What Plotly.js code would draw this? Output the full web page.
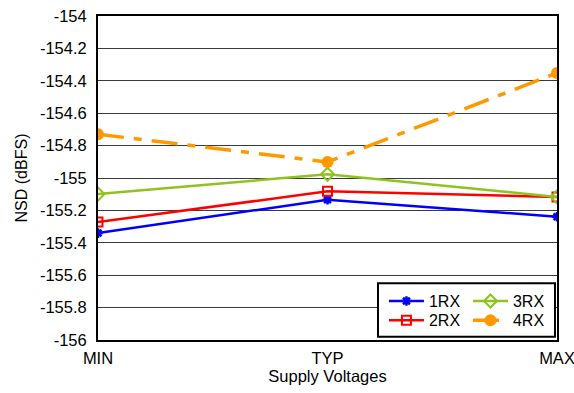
<!DOCTYPE html>
<html>
<head>
<meta charset="utf-8">
<script src="https://cdn.plot.ly/plotly-3.0.1.min.js"></script>
<style>html,body{margin:0;padding:0;background:#fff;}#chart{width:574px;height:393px;}</style>
</head>
<body>
<div id="chart"></div>
<script>
var categories = ["MIN", "TYP", "MAX"];
var rx1 = [-155.34, -155.134, -155.239];
var rx2 = [-155.272, -155.082, -155.117];
var rx3 = [-155.099, -154.977, -155.117];
var rx4 = [-154.730, -154.901, -154.352];
var yTickVals = [-156, -155.8, -155.6, -155.4, -155.2, -155, -154.8, -154.6, -154.4, -154.2, -154];
var yTickText = ["-156", "-155.8", "-155.6", "-155.4", "-155.2", "-155", "-154.8", "-154.6", "-154.4", "-154.2", "-154"];

var font = "Liberation Sans, Arial, sans-serif";
var traces = [
  {x: categories, y: rx1, name: "1RX", mode: "lines+markers", legend: "legend",
   line: {color: "#0000ff", width: 2.5},
   marker: {symbol: "asterisk-open", size: 8, color: "#0000ff", line: {color: "#0000ff", width: 2.5}}},
  {x: categories, y: rx2, name: "2RX", mode: "lines+markers", legend: "legend2",
   line: {color: "#ff0000", width: 2.5},
   marker: {symbol: "square-open", size: 9, color: "#ff0000", line: {color: "#ff0000", width: 2}}},
  {x: categories, y: rx3, name: "3RX", mode: "lines+markers", legend: "legend3",
   line: {color: "#8fc31f", width: 2.5},
   marker: {symbol: "diamond-open", size: 10, color: "#8fc31f", line: {color: "#8fc31f", width: 2}}},
  {x: categories, y: rx4, name: "4RX", mode: "lines+markers", legend: "legend4",
   line: {color: "#ff9900", width: 3.5, dash: "26px,10px,8px,10px"},
   marker: {symbol: "circle", size: 12, color: "#ff9900"}}
];

function leg(x, y) {
  return {x: x, y: y, xanchor: "left", yanchor: "middle", bgcolor: "rgba(0,0,0,0)",
          borderwidth: 0, font: {size: 16, family: font}, tracegroupgap: 0, itemwidth: 35};
}

var layout = {
  width: 574, height: 393,
  margin: {l: 98, r: 17, t: 16, b: 53},
  paper_bgcolor: "#fff", plot_bgcolor: "#fff",
  font: {family: font, size: 16.5, color: "#000"},
  showlegend: true,
  xaxis: {
    type: "category", range: [0, 2], showgrid: false, zeroline: false,
    showline: true, mirror: true, linecolor: "#000", linewidth: 2,
    ticks: "", ticklabelstandoff: 2, tickfont: {size: 16.5, family: font}, automargin: false,
    title: {text: "Supply Voltages", font: {size: 16.5, family: font}, standoff: 1}
  },
  yaxis: {
    range: [-156, -154], tickvals: yTickVals, ticktext: yTickText,
    showgrid: true, gridcolor: "#3a3a3a", gridwidth: 1, zeroline: false,
    showline: true, mirror: true, linecolor: "#000", linewidth: 2,
    ticks: "", ticklabelstandoff: 6, tickfont: {size: 16.5, family: font}, automargin: false,
    title: {text: "NSD (dBFS)", font: {size: 16, family: font}, standoff: 8}
  },
  shapes: [{type: "rect", xref: "paper", yref: "paper", x0: 0.61, x1: 0.9956, y0: 0.010, y1: 0.175,
            line: {color: "#000", width: 2}, fillcolor: "#fff", layer: "above"}],
  legend: leg(0.623, 0.120),
  legend2: leg(0.623, 0.061),
  legend3: leg(0.806, 0.120),
  legend4: leg(0.806, 0.061)
};

Plotly.newPlot("chart", traces, layout, {displayModeBar: false, staticPlot: true});
</script>
</body>
</html>
